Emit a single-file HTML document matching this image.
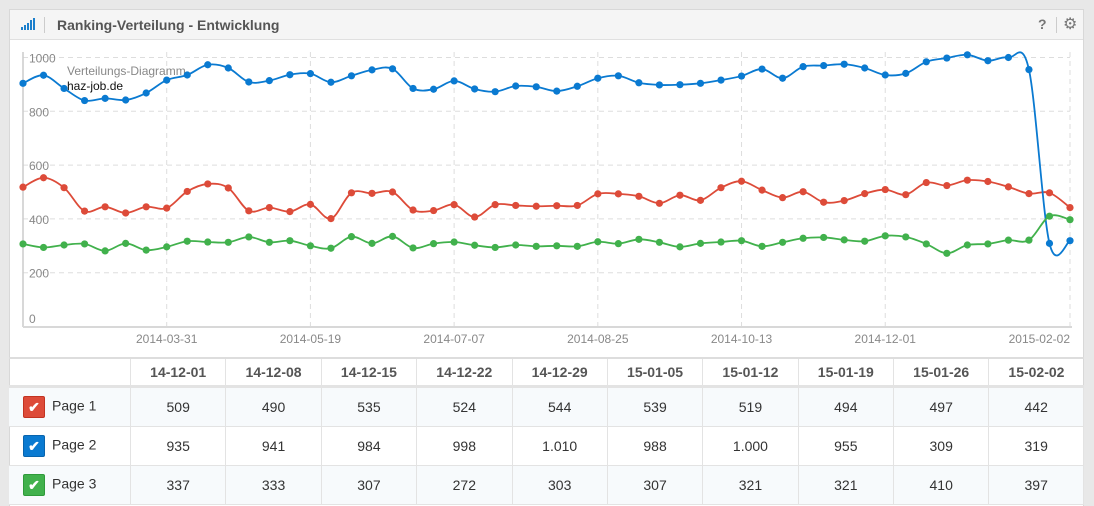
<!DOCTYPE html>
<html><head><meta charset="utf-8"><style>
body{margin:0;width:1094px;height:506px;background:#e8e8e8;font-family:"Liberation Sans",Arial,sans-serif;overflow:hidden;position:relative}
#card{position:absolute;left:9px;top:9px;width:1075px;height:497px;background:#fff;border:1px solid #d8d8d8;border-bottom:none;box-sizing:border-box}
#hdr{position:absolute;left:0;top:0;width:100%;height:30px;background:#f5f5f5;border-bottom:1px solid #e0e0e0;box-sizing:border-box}
#title{position:absolute;left:47px;top:7px;font-size:14px;font-weight:bold;color:#555}
table{position:absolute;left:0;top:357px;width:1075px;border-collapse:collapse;font-size:14px;color:#333}
td,th{border:1px solid #e3e3e3;text-align:center;padding:0}
th{height:26px;font-weight:bold;color:#555;border-top:2px solid #ddd;border-bottom:3px solid #e3e3e3}
td{height:38px}
tr.alt td{background:#f7fafc}
td.lab{text-align:left;padding-left:14px;width:107px;border-left:none}
.cb{display:inline-block;width:20px;height:20px;border-radius:2px;vertical-align:middle;margin-right:7px;color:#fff;text-align:center;line-height:20px;font-size:14px;font-weight:bold}
</style></head><body>
<div id="card">
<div id="hdr">
<svg style="position:absolute;left:11px;top:8px" width="14" height="12"><rect x="0" y="9" width="2" height="3" fill="#1b7fcc"/><rect x="3" y="7" width="2" height="5" fill="#1b7fcc"/><rect x="6" y="5" width="2" height="7" fill="#1b7fcc"/><rect x="9" y="2" width="2" height="10" fill="#1b7fcc"/><rect x="12" y="0" width="2" height="12" fill="#1b7fcc"/></svg>
<div style="position:absolute;left:34px;top:7px;width:1px;height:16px;background:#ccc"></div>
<div id="title">Ranking-Verteilung - Entwicklung</div>
<div style="position:absolute;left:1028px;top:6px;font-size:14px;font-weight:bold;color:#777">?</div>
<div style="position:absolute;left:1046px;top:7px;width:1px;height:16px;background:#ccc"></div>
<div style="position:absolute;left:1053px;top:4px;font-size:16px;color:#777">⚙</div>
</div>
</div>
<svg id="chart" style="position:absolute;left:0;top:0" width="1094" height="356"></svg>
<table style="left:9px">
<tr><th style="border-left:none"></th><th>14-12-01</th><th>14-12-08</th><th>14-12-15</th><th>14-12-22</th><th>14-12-29</th><th>15-01-05</th><th>15-01-12</th><th>15-01-19</th><th>15-01-26</th><th style="border-right:none">15-02-02</th></tr>
<tr class="alt"><td class="lab"><span class="cb" style="background:#dd4b39;border:1px solid #c23321">✔</span>Page 1</td><td>509</td><td>490</td><td>535</td><td>524</td><td>544</td><td>539</td><td>519</td><td>494</td><td>497</td><td>442</td></tr>
<tr><td class="lab"><span class="cb" style="background:#0a7ad1;border:1px solid #0864ad">✔</span>Page 2</td><td>935</td><td>941</td><td>984</td><td>998</td><td>1.010</td><td>988</td><td>1.000</td><td>955</td><td>309</td><td>319</td></tr>
<tr class="alt"><td class="lab"><span class="cb" style="background:#41b14c;border:1px solid #2f9a3a">✔</span>Page 3</td><td>337</td><td>333</td><td>307</td><td>272</td><td>303</td><td>307</td><td>321</td><td>321</td><td>410</td><td>397</td></tr>
</table>
<script>
const page1=[518,553,516,429,445,422,445,440,502,530,515,430,442,427,454,401,497,495,500,433,431,453,407,453,450,447,449,450,493,493,484,458,488,469,516,540,507,479,501,462,468,494,509,490,535,524,544,539,519,494,497,442];
const page2=[904,934,885,840,848,842,868,916,935,973,961,909,914,936,940,908,932,954,958,885,882,913,883,873,894,891,875,893,923,932,906,898,899,904,916,931,957,923,966,970,975,961,935,941,984,998,1010,988,1000,955,309,319];
const page3=[307,294,303,307,281,309,284,296,317,314,313,333,313,319,300,291,334,309,335,292,308,314,302,294,303,298,300,298,315,308,324,313,296,309,314,319,298,313,328,331,322,317,337,333,307,272,303,307,321,321,410,397];
const yTicks=[0,200,400,600,800,1000];
const xTickIdx=[7,14,21,28,35,42,51];
const xTickLabels=['2014-03-31','2014-05-19','2014-07-07','2014-08-25','2014-10-13','2014-12-01','2015-02-02'];
const svg=document.getElementById('chart');const NS='http://www.w3.org/2000/svg';
const X0=23,X1=1070,N=page1.length;
const xs=i=>X0+(X1-X0)*i/(N-1);
const ys=v=>326.5-0.269*v;
function mk(t,a,p){const e=document.createElementNS(NS,t);for(const k in a)e.setAttribute(k,a[k]);(p||svg).appendChild(e);return e;}
yTicks.forEach(v=>{if(v>0){const l=mk('line',{x1:X0,x2:X1,y1:ys(v),y2:ys(v),stroke:'#ddd','stroke-dasharray':'5,4'});

}
const t=mk('text',{x:29,y:v==0?323:ys(v)+5,'font-size':12,fill:'#888'});t.textContent=v;

});
xTickIdx.forEach((ix,k)=>{const x=xs(ix);const l=mk('line',{x1:x,x2:x,y1:52,y2:326,stroke:'#ddd','stroke-dasharray':'5,4'});


const last=k==xTickIdx.length-1;
const t=mk('text',{x:x,y:343,'font-size':12,fill:'#888','text-anchor':last?'end':'middle'});t.textContent=xTickLabels[k];

});
const ax=mk('line',{x1:X0,x2:X0,y1:52,y2:327,stroke:'#ccc','stroke-width':1.5});


const bx=mk('line',{x1:X0,x2:X1+2,y1:327,y2:327,stroke:'#d8d8d8','stroke-width':2});


const t1=mk('text',{x:67,y:75,'font-size':12,fill:'#888'});t1.textContent='Verteilungs-Diagramm';


const t2=mk('text',{x:67,y:90,'font-size':12,fill:'#111'});t2.textContent='haz-job.de';


function series(data,color,name){const p=data.map((v,i)=>[xs(i),ys(v)]);let d='M'+p[0];
for(let i=0;i<p.length-1;i++){const a=p[i-1]||p[i],b=p[i],c=p[i+1],e=p[i+2]||c;
d+=` C${b[0]+(c[0]-a[0])/6},${b[1]+(c[1]-a[1])/6} ${c[0]-(e[0]-b[0])/6},${c[1]-(e[1]-b[1])/6} ${c[0]},${c[1]}`;}
const path=mk('path',{d:d,fill:'none',stroke:color,'stroke-width':1.8});


p.forEach(q=>{const c=mk('circle',{cx:q[0],cy:q[1],r:3.6,fill:color});

});}
series(page1,'#dd4b39','page-1');series(page2,'#0a7ad1','page-2');series(page3,'#41b14c','page-3');
</script>
</body></html>
